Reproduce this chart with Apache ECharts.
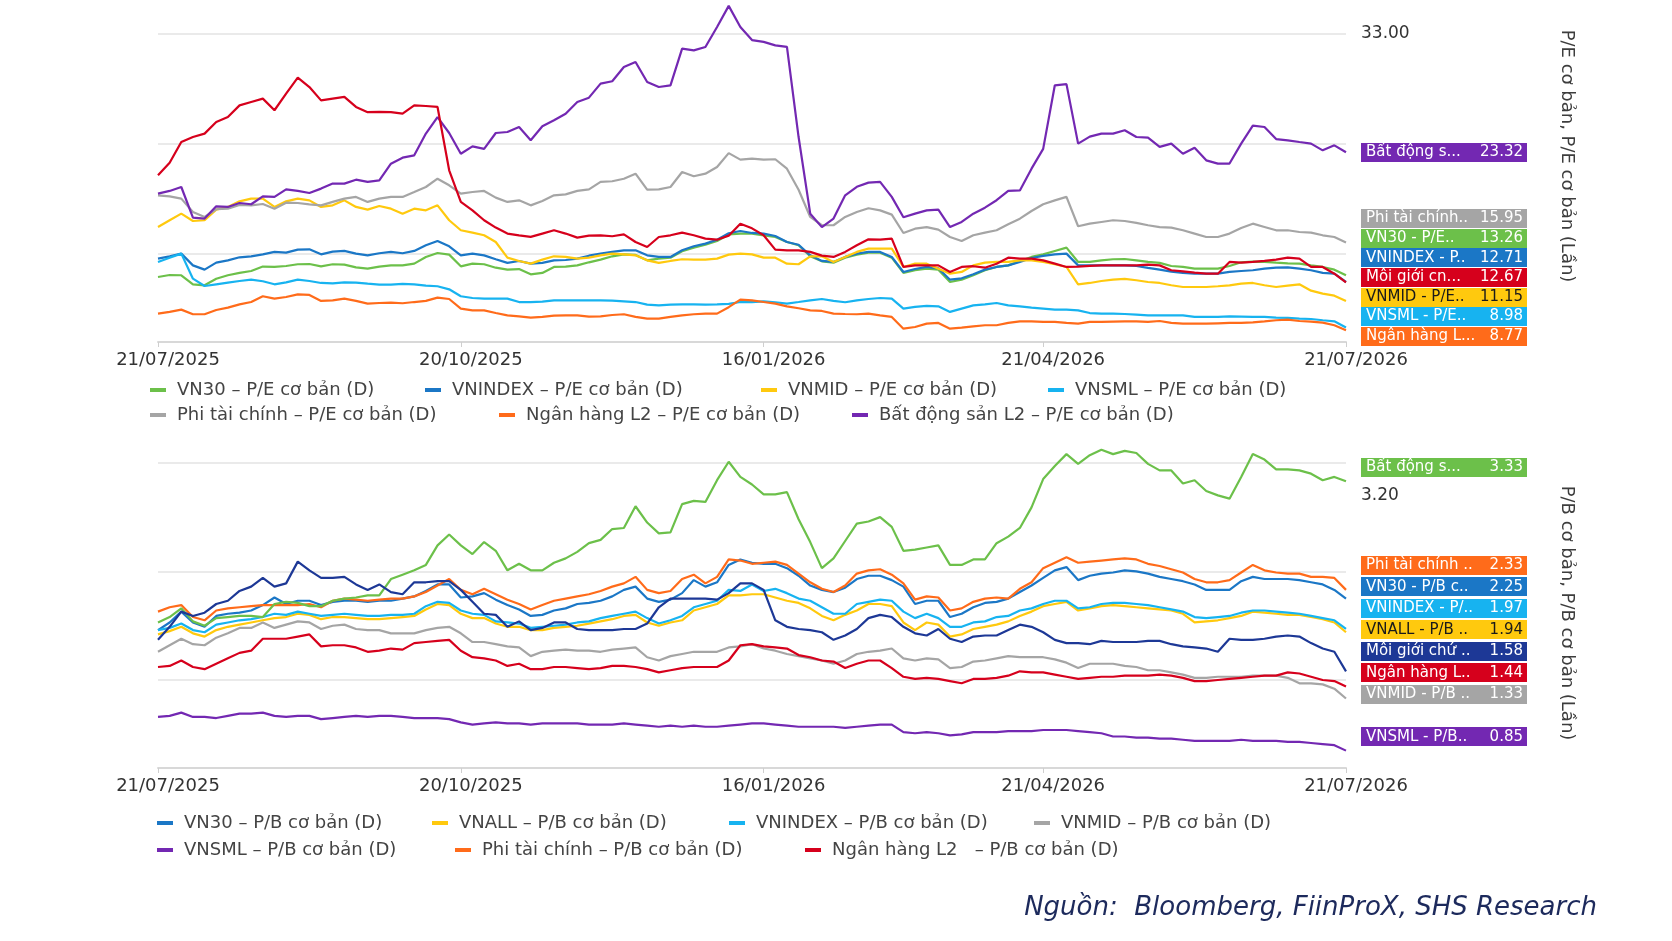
<!DOCTYPE html>
<html>
<head>
<meta charset="utf-8">
<title>P/E, P/B cơ bản</title>
<script src="https://cdn.jsdelivr.net/npm/echarts@6.0.0/dist/echarts.min.js"></script>
<style>
  html, body { margin: 0; padding: 0; background: #ffffff; }
  #chart { width: 1672px; height: 941px; }
</style>
</head>
<body>
<div id="chart"></div>
<script>
// mỗi điểm ~ nửa tuần giao dịch
const dates = [
  '21/07/2025','24/07/2025','28/07/2025','31/07/2025','04/08/2025','07/08/2025','11/08/2025','14/08/2025','18/08/2025','21/08/2025',
  '25/08/2025','28/08/2025','01/09/2025','04/09/2025','08/09/2025','11/09/2025','15/09/2025','18/09/2025','22/09/2025','25/09/2025',
  '29/09/2025','02/10/2025','06/10/2025','09/10/2025','13/10/2025','16/10/2025','20/10/2025',
  '23/10/2025','27/10/2025','30/10/2025','03/11/2025','06/11/2025','10/11/2025','13/11/2025','17/11/2025','20/11/2025','24/11/2025',
  '27/11/2025','01/12/2025','04/12/2025','08/12/2025','11/12/2025','15/12/2025','18/12/2025','22/12/2025','25/12/2025','29/12/2025',
  '02/01/2026','05/01/2026','08/01/2026','12/01/2026','14/01/2026','16/01/2026',
  '20/01/2026','23/01/2026','27/01/2026','30/01/2026','03/02/2026','06/02/2026','10/02/2026','13/02/2026','24/02/2026','27/02/2026',
  '03/03/2026','06/03/2026','10/03/2026','13/03/2026','17/03/2026','20/03/2026','24/03/2026','27/03/2026','31/03/2026','03/04/2026',
  '07/04/2026','10/04/2026','14/04/2026','21/04/2026',
  '24/04/2026','28/04/2026','01/05/2026','05/05/2026','08/05/2026','12/05/2026','15/05/2026','19/05/2026','22/05/2026','26/05/2026',
  '29/05/2026','02/06/2026','05/06/2026','09/06/2026','12/06/2026','16/06/2026','19/06/2026','23/06/2026','26/06/2026','30/06/2026',
  '03/07/2026','07/07/2026','10/07/2026','14/07/2026','17/07/2026','21/07/2026'
];
const dateTicks = ['21/07/2025', '20/10/2025', '16/01/2026', '21/04/2026', '21/07/2026'];

// P/E cơ bản (lần)
const peVN30 = [
  13.12, 13.28, 13.26, 12.52, 12.44, 12.98, 13.26, 13.45, 13.61, 13.97,
  13.94, 14.02, 14.16, 14.18, 13.99, 14.16, 14.13, 13.91, 13.8, 13.97,
  14.07, 14.07, 14.21, 14.76, 15.08, 14.95, 13.99, 14.21, 14.16, 13.88,
  13.72, 13.77, 13.34, 13.45, 13.94, 13.97, 14.07, 14.32, 14.54, 14.81,
  14.97, 14.92, 14.48, 14.62, 14.7, 15.22, 15.52, 15.76, 16.07, 16.6,
  16.67, 16.67, 16.53, 16.39, 15.98, 15.71, 14.81, 14.4, 14.29, 14.7,
  14.94, 15.11, 15.11, 14.7, 13.45, 13.67, 13.8, 13.72, 12.71, 12.9,
  13.26, 13.67, 13.94, 14.07, 14.43, 14.76, 14.97, 15.25, 15.52, 14.35,
  14.35, 14.48, 14.57, 14.59, 14.48, 14.35, 14.27, 14.02, 13.94, 13.8,
  13.8, 13.8, 14.02, 14.32, 14.38, 14.35, 14.29, 14.24, 14.21, 14.07,
  13.94, 13.72, 13.26
];
const peVNINDEX = [
  14.62, 14.81, 15.03, 14.07, 13.72, 14.29, 14.48, 14.73, 14.81, 14.97,
  15.17, 15.11, 15.36, 15.38, 14.97, 15.19, 15.25, 15.03, 14.89, 15.06,
  15.17, 15.06, 15.25, 15.71, 16.07, 15.63, 14.89, 15.03, 14.89, 14.57,
  14.27, 14.43, 14.21, 14.27, 14.48, 14.51, 14.62, 14.86, 15.03, 15.17,
  15.3, 15.3, 14.89, 14.76, 14.76, 15.3, 15.63, 15.85, 16.17, 16.7,
  16.88, 16.72, 16.67, 16.47, 15.98, 15.76, 14.89, 14.43, 14.35, 14.76,
  15.03, 15.17, 15.17, 14.76, 13.53, 13.77, 13.94, 13.83, 12.9, 13.01,
  13.34, 13.72, 13.94, 14.07, 14.35, 14.67, 14.84, 14.97, 15.03, 14.07,
  14.07, 14.07, 14.07, 14.07, 14.02, 13.86, 13.72, 13.56, 13.45, 13.39,
  13.39, 13.39, 13.53, 13.61, 13.67, 13.8, 13.88, 13.91, 13.8, 13.67,
  13.45, 13.39, 12.71
];
const peVNMID = [
  17.21, 17.76, 18.3, 17.7, 17.76, 18.63, 18.85, 19.31, 19.53, 19.53,
  18.85, 19.31, 19.53, 19.39, 18.85, 18.98, 19.39, 18.85, 18.63, 18.93,
  18.71, 18.3, 18.71, 18.57, 18.98, 17.76, 16.94, 16.75, 16.53, 15.98,
  14.7, 14.43, 14.21, 14.54, 14.81, 14.76, 14.62, 14.7, 14.89, 15.03,
  14.97, 14.89, 14.48, 14.27, 14.43, 14.57, 14.54, 14.54, 14.62, 14.95,
  15.03, 14.97, 14.7, 14.7, 14.21, 14.16, 14.81, 14.81, 14.35, 14.76,
  15.17, 15.44, 15.44, 15.44, 13.94, 14.21, 14.21, 13.8, 13.39, 13.53,
  14.07, 14.29, 14.35, 14.35, 14.48, 14.48, 14.35, 14.16, 13.94, 12.52,
  12.63, 12.79, 12.9, 12.96, 12.85, 12.71, 12.63, 12.44, 12.3, 12.3,
  12.3, 12.36, 12.44, 12.57, 12.63, 12.44, 12.3, 12.41, 12.52, 12.0,
  11.76, 11.59, 11.15
];
const peVNSML = [
  14.35, 14.7, 15.03, 12.98, 12.38, 12.52, 12.66, 12.79, 12.9, 12.77,
  12.52, 12.68, 12.9, 12.79, 12.63, 12.6, 12.68, 12.66, 12.57, 12.49,
  12.49, 12.55, 12.52, 12.41, 12.36, 12.11, 11.54, 11.4, 11.35, 11.35,
  11.35, 11.07, 11.07, 11.1, 11.21, 11.21, 11.21, 11.21, 11.21, 11.18,
  11.13, 11.07, 10.86, 10.8, 10.86, 10.88, 10.88, 10.86, 10.88, 10.92,
  11.07, 11.07, 11.13, 11.05, 10.94, 11.07, 11.21, 11.32, 11.16, 11.05,
  11.21, 11.32, 11.4, 11.35, 10.53, 10.67, 10.75, 10.72, 10.26, 10.53,
  10.8, 10.88, 10.99, 10.8, 10.72, 10.61, 10.53, 10.45, 10.45, 10.39,
  10.17, 10.12, 10.12, 10.09, 10.04, 9.98, 9.98, 9.98, 9.98, 9.85,
  9.85, 9.85, 9.9, 9.88, 9.85, 9.85, 9.79, 9.77, 9.71, 9.68,
  9.58, 9.49, 8.98
];
const pePhiTaiChinh = [
  19.8, 19.72, 19.53, 18.44, 18.03, 18.66, 18.71, 19.01, 18.98, 19.09,
  18.71, 19.2, 19.17, 19.06, 18.98, 19.26, 19.53, 19.67, 19.26, 19.53,
  19.67, 19.67, 20.07, 20.48, 21.16, 20.62, 19.94, 20.07, 20.16, 19.61,
  19.26, 19.39, 18.98, 19.34, 19.8, 19.88, 20.16, 20.29, 20.9, 20.95,
  21.16, 21.57, 20.26, 20.29, 20.48, 21.71, 21.36, 21.57, 22.12, 23.25,
  22.72, 22.8, 22.72, 22.75, 21.98, 20.26, 18.03, 17.35, 17.35, 18.03,
  18.44, 18.74, 18.57, 18.22, 16.72, 17.07, 17.2, 16.99, 16.39, 16.06,
  16.53, 16.75, 16.94, 17.43, 17.89, 18.52, 19.07, 19.39, 19.67, 17.27,
  17.48, 17.62, 17.76, 17.7, 17.54, 17.35, 17.2, 17.16, 16.94, 16.67,
  16.39, 16.39, 16.67, 17.13, 17.48, 17.21, 16.94, 16.94, 16.8, 16.75,
  16.53, 16.39, 15.95
];
const peNganHang = [
  10.12, 10.26, 10.45, 10.07, 10.07, 10.42, 10.61, 10.88, 11.07, 11.54,
  11.35, 11.48, 11.7, 11.65, 11.16, 11.21, 11.35, 11.16, 10.94, 10.99,
  11.02, 10.97, 11.07, 11.16, 11.43, 11.32, 10.53, 10.39, 10.39, 10.17,
  9.98, 9.9, 9.79, 9.85, 9.96, 9.98, 9.98, 9.88, 9.9, 10.01,
  10.07, 9.85, 9.71, 9.71, 9.85, 9.98, 10.07, 10.12, 10.12, 10.65,
  11.27, 11.21, 11.07, 10.94, 10.72, 10.56, 10.39, 10.34, 10.12, 10.09,
  10.07, 10.12, 9.98, 9.85, 8.89, 9.03, 9.3, 9.36, 8.89, 8.97,
  9.08, 9.17, 9.17, 9.36, 9.49, 9.49, 9.44, 9.44, 9.36, 9.3,
  9.44, 9.44, 9.47, 9.49, 9.49, 9.44, 9.52, 9.36, 9.3, 9.3,
  9.3, 9.33, 9.36, 9.36, 9.41, 9.49, 9.58, 9.63, 9.52, 9.47,
  9.38, 9.17, 8.77
];
const peBatDongSan = [
  19.94, 20.16, 20.48, 17.97, 17.9, 18.9, 18.85, 19.17, 19.07, 19.72,
  19.67, 20.29, 20.16, 19.99, 20.35, 20.76, 20.76, 21.08, 20.9, 21.03,
  22.39, 22.88, 23.07, 24.85, 26.2, 24.9, 23.2, 23.81, 23.6, 24.9,
  24.98, 25.39, 24.3, 25.45, 25.94, 26.48, 27.44, 27.79, 28.94, 29.13,
  30.3, 30.71, 29.07, 28.66, 28.8, 31.8, 31.66, 31.94, 33.57, 35.3,
  33.57, 32.5, 32.35, 32.07, 31.94, 24.57, 18.3, 17.2, 17.9, 19.8,
  20.5, 20.84, 20.9, 19.67, 18.0, 18.3, 18.57, 18.63, 17.2, 17.62,
  18.3, 18.79, 19.4, 20.16, 20.2, 21.98, 23.6, 28.8, 28.9, 24.03,
  24.6, 24.85, 24.85, 25.12, 24.57, 24.52, 23.76, 24.03, 23.2, 23.7,
  22.66, 22.39, 22.4, 24.03, 25.5, 25.39, 24.4, 24.3, 24.16, 24.03,
  23.48, 23.89, 23.32
];
const peMoiGioi = [
  21.44, 22.47, 24.16, 24.57, 24.85, 25.8, 26.2, 27.16, 27.44, 27.71,
  26.76, 28.12, 29.43, 28.66, 27.57, 27.71, 27.85, 27.03, 26.6, 26.62,
  26.6, 26.48, 27.16, 27.11, 27.03, 21.85, 19.26, 18.57, 17.76, 17.16,
  16.67, 16.53, 16.4, 16.67, 16.94, 16.67, 16.34, 16.5, 16.53, 16.45,
  16.6, 15.98, 15.57, 16.39, 16.53, 16.75, 16.53, 16.26, 16.17, 16.5,
  17.48, 17.1, 16.53, 15.36, 15.3, 15.3, 15.17, 14.87, 14.76, 15.17,
  15.71, 16.2, 16.17, 16.26, 13.94, 14.07, 14.07, 14.07, 13.53, 13.94,
  14.0, 13.88, 14.2, 14.7, 14.62, 14.62, 14.48, 14.21, 13.94, 13.97,
  14.02, 14.07, 14.07, 14.07, 14.07, 14.13, 14.07, 13.67, 13.58, 13.47,
  13.39, 13.39, 14.35, 14.29, 14.35, 14.43, 14.54, 14.7, 14.62, 13.94,
  13.94, 13.39, 12.67
];
const peGridValues = [15, 24, 33];
const peTickLabels = [33];

// P/B cơ bản (lần)
const pbVN30 = [
  1.96, 2.03, 2.13, 2.03, 1.99, 2.09, 2.11, 2.12, 2.14, 2.19,
  2.26, 2.2, 2.23, 2.23, 2.19, 2.22, 2.23, 2.23, 2.22, 2.23,
  2.23, 2.25, 2.27, 2.32, 2.38, 2.38, 2.26, 2.27, 2.3, 2.24,
  2.19, 2.15, 2.09, 2.1, 2.14, 2.16, 2.2, 2.21, 2.23, 2.27,
  2.33, 2.36, 2.25, 2.22, 2.24, 2.3, 2.42, 2.36, 2.4, 2.56,
  2.61, 2.58, 2.57, 2.57, 2.53, 2.46, 2.37, 2.33, 2.31, 2.35,
  2.43, 2.46, 2.46, 2.42, 2.36, 2.2, 2.23, 2.23, 2.08, 2.11,
  2.17, 2.21, 2.22, 2.25, 2.31, 2.37, 2.44, 2.51, 2.54, 2.42,
  2.46, 2.48, 2.49, 2.51, 2.5, 2.48, 2.45, 2.43, 2.41, 2.38,
  2.33, 2.33, 2.33, 2.41, 2.45, 2.43, 2.43, 2.43, 2.42, 2.4,
  2.38, 2.33, 2.25
];
const pbVNALL = [
  1.92, 1.95, 1.99, 1.93, 1.9, 1.96, 1.99, 2.01, 2.03, 2.05,
  2.07, 2.08, 2.11, 2.1, 2.06, 2.08, 2.08, 2.07, 2.06, 2.06,
  2.07, 2.08, 2.09, 2.15, 2.2, 2.19, 2.11, 2.07, 2.07, 2.02,
  1.99, 1.99, 1.96, 1.96, 1.98, 1.99, 2.0, 2.02, 2.04, 2.06,
  2.09, 2.1, 2.03, 2.0, 2.03, 2.05, 2.14, 2.17, 2.2, 2.28,
  2.28, 2.29, 2.29, 2.26, 2.23, 2.21, 2.16, 2.09, 2.05, 2.1,
  2.14, 2.2, 2.2, 2.18, 2.03, 1.96, 2.03, 2.01, 1.9, 1.92,
  1.97, 1.99, 2.01, 2.04, 2.09, 2.13, 2.18, 2.2, 2.22, 2.14,
  2.16, 2.18, 2.19, 2.18, 2.17, 2.16, 2.15, 2.14, 2.11, 2.03,
  2.04, 2.05, 2.07, 2.09, 2.13, 2.12, 2.11, 2.1, 2.1, 2.08,
  2.06, 2.03, 1.94
];
const pbVNINDEX = [
  1.96, 1.98, 2.02, 1.96, 1.94, 2.01, 2.03, 2.05, 2.06, 2.08,
  2.11, 2.1, 2.13, 2.11, 2.09, 2.1, 2.11, 2.1, 2.09, 2.09,
  2.1, 2.1, 2.11, 2.18, 2.22, 2.21, 2.14, 2.11, 2.1, 2.04,
  2.03, 2.02, 1.98, 1.99, 2.0, 2.01, 2.03, 2.04, 2.07, 2.09,
  2.11, 2.13, 2.07, 2.02, 2.05, 2.09, 2.17, 2.2, 2.23, 2.33,
  2.32, 2.38, 2.32, 2.34, 2.3, 2.25, 2.23, 2.17, 2.11, 2.11,
  2.2, 2.22, 2.24, 2.23, 2.13, 2.07, 2.11, 2.07, 1.99, 1.99,
  2.03, 2.04, 2.08, 2.09, 2.14, 2.16, 2.2, 2.23, 2.23, 2.16,
  2.17, 2.2, 2.21, 2.21, 2.2, 2.19, 2.17, 2.15, 2.13, 2.08,
  2.07, 2.08, 2.09, 2.12, 2.14, 2.14, 2.13, 2.12, 2.11, 2.09,
  2.07, 2.05, 1.97
];
const pbVNMID = [
  1.76, 1.82, 1.88, 1.83, 1.82, 1.89, 1.93, 1.98, 1.98, 2.03,
  1.98, 2.01, 2.04, 2.03, 1.97, 2.0, 2.01, 1.97, 1.96, 1.96,
  1.93, 1.93, 1.93, 1.96, 1.98, 1.99, 1.93, 1.85, 1.85, 1.83,
  1.81, 1.8, 1.72, 1.76, 1.77, 1.78, 1.77, 1.77, 1.76, 1.78,
  1.79, 1.8, 1.71, 1.68, 1.72, 1.74, 1.76, 1.76, 1.76, 1.8,
  1.81, 1.83, 1.79, 1.77, 1.74, 1.72, 1.7, 1.68, 1.65, 1.68,
  1.74, 1.76, 1.77, 1.79, 1.7, 1.68, 1.7, 1.69, 1.61, 1.62,
  1.67, 1.68, 1.7, 1.72, 1.71, 1.71, 1.71, 1.69, 1.66, 1.61,
  1.65, 1.65, 1.65, 1.63, 1.62, 1.59, 1.59, 1.57, 1.55, 1.52,
  1.52, 1.53, 1.53, 1.53, 1.54, 1.54, 1.54, 1.52, 1.47, 1.47,
  1.46, 1.42, 1.33
];
const pbVNSML = [
  1.16, 1.17, 1.2, 1.16, 1.16, 1.15, 1.17, 1.19, 1.19, 1.2,
  1.17, 1.16, 1.17, 1.17, 1.14, 1.15, 1.16, 1.17, 1.16, 1.17,
  1.17, 1.16, 1.15, 1.15, 1.15, 1.14, 1.11, 1.09, 1.1, 1.11,
  1.1, 1.1, 1.09, 1.1, 1.1, 1.1, 1.1, 1.09, 1.09, 1.09,
  1.1, 1.09, 1.08, 1.07, 1.08, 1.07, 1.08, 1.07, 1.07, 1.08,
  1.09, 1.1, 1.1, 1.09, 1.08, 1.07, 1.07, 1.07, 1.07, 1.06,
  1.07, 1.08, 1.09, 1.09, 1.02, 1.01, 1.02, 1.01, 0.99, 1.0,
  1.02, 1.02, 1.02, 1.03, 1.03, 1.03, 1.04, 1.04, 1.04, 1.03,
  1.02, 1.01, 0.98, 0.98, 0.97, 0.97, 0.96, 0.96, 0.95, 0.94,
  0.94, 0.94, 0.94, 0.95, 0.94, 0.94, 0.94, 0.93, 0.93, 0.92,
  0.91, 0.9, 0.85
];
const pbPhiTaiChinh = [
  2.13, 2.17, 2.19, 2.08, 2.05, 2.14, 2.16, 2.17, 2.18, 2.19,
  2.19, 2.19, 2.19, 2.2, 2.17, 2.23, 2.25, 2.24, 2.23, 2.24,
  2.25, 2.25, 2.27, 2.31, 2.37, 2.43, 2.33, 2.29, 2.34, 2.29,
  2.24, 2.2, 2.15, 2.19, 2.23, 2.25, 2.27, 2.29, 2.32, 2.36,
  2.39, 2.45, 2.33, 2.3, 2.32, 2.43, 2.47, 2.39, 2.45, 2.61,
  2.6, 2.57, 2.58, 2.59, 2.56, 2.48, 2.4, 2.34, 2.31, 2.37,
  2.48, 2.51, 2.52, 2.47, 2.39, 2.24, 2.27, 2.26, 2.14, 2.16,
  2.22, 2.25, 2.26, 2.25, 2.34, 2.4, 2.53, 2.58, 2.63, 2.58,
  2.59, 2.6, 2.61, 2.62, 2.61, 2.57, 2.55, 2.52, 2.49, 2.43,
  2.4, 2.4, 2.42, 2.49, 2.56, 2.51, 2.49, 2.48, 2.48, 2.45,
  2.45, 2.44, 2.33
];
const pbNganHang = [
  1.62, 1.63, 1.68, 1.62, 1.6, 1.65, 1.7, 1.75, 1.77, 1.88,
  1.88, 1.88, 1.9, 1.92, 1.81, 1.82, 1.82, 1.8, 1.76, 1.77,
  1.79, 1.78, 1.84, 1.85, 1.86, 1.87, 1.77, 1.71, 1.7, 1.68,
  1.63, 1.65, 1.6, 1.6, 1.62, 1.62, 1.61, 1.6, 1.61, 1.63,
  1.63, 1.62, 1.6, 1.57, 1.59, 1.61, 1.62, 1.62, 1.62, 1.68,
  1.82, 1.83, 1.81, 1.8, 1.79, 1.73, 1.71, 1.68, 1.67, 1.61,
  1.65, 1.68, 1.68, 1.61, 1.53, 1.51, 1.52, 1.51, 1.49, 1.47,
  1.51, 1.51, 1.52, 1.54, 1.58, 1.57, 1.57, 1.55, 1.53, 1.51,
  1.52, 1.53, 1.53, 1.54, 1.54, 1.54, 1.55, 1.54, 1.52, 1.49,
  1.49, 1.5, 1.51, 1.52, 1.53, 1.54, 1.54, 1.57, 1.56, 1.53,
  1.5, 1.49, 1.44
];
const pbBatDongSan = [
  2.03, 2.08, 2.16, 2.04, 2.0, 2.07, 2.08, 2.09, 2.09, 2.08,
  2.2, 2.22, 2.21, 2.18, 2.18, 2.23, 2.25, 2.26, 2.28, 2.28,
  2.43, 2.47, 2.51, 2.56, 2.74, 2.84, 2.74, 2.66, 2.77, 2.69,
  2.51, 2.57, 2.51, 2.51, 2.58, 2.62, 2.68, 2.76, 2.79, 2.89,
  2.9, 3.1, 2.95, 2.85, 2.86, 3.12, 3.15, 3.14, 3.34, 3.51,
  3.37, 3.3, 3.21, 3.21, 3.23, 2.98, 2.77, 2.53, 2.62, 2.78,
  2.94, 2.96, 3.0, 2.91, 2.69, 2.7, 2.72, 2.74, 2.56, 2.56,
  2.61, 2.61, 2.76, 2.82, 2.9, 3.09, 3.35, 3.47, 3.58, 3.49,
  3.57, 3.62, 3.58, 3.61, 3.59, 3.49, 3.43, 3.43, 3.31, 3.34,
  3.24, 3.2, 3.17, 3.37, 3.58, 3.53, 3.44, 3.44, 3.43, 3.4,
  3.34, 3.37, 3.33
];
const pbMoiGioi = [
  1.87, 1.99, 2.13, 2.09, 2.12, 2.2, 2.23, 2.32, 2.36, 2.44,
  2.36, 2.39, 2.59, 2.51, 2.44, 2.44, 2.45, 2.38, 2.33, 2.38,
  2.31, 2.29, 2.4, 2.4, 2.41, 2.41, 2.33, 2.22, 2.11, 2.1,
  1.99, 2.04, 1.96, 1.98, 2.03, 2.03, 1.97, 1.96, 1.96, 1.96,
  1.97, 1.97, 2.02, 2.17, 2.25, 2.25, 2.25, 2.25, 2.24, 2.3,
  2.39, 2.39, 2.33, 2.05, 1.99, 1.97, 1.96, 1.94, 1.87, 1.91,
  1.97, 2.07, 2.1, 2.08, 1.99, 1.93, 1.91, 1.97, 1.88, 1.85,
  1.9, 1.91, 1.91, 1.96, 2.01, 1.99, 1.94, 1.87, 1.84, 1.84,
  1.83, 1.86, 1.85, 1.85, 1.85, 1.86, 1.86, 1.83, 1.81, 1.8,
  1.79, 1.76, 1.88, 1.87, 1.87, 1.88, 1.9, 1.91, 1.9, 1.84,
  1.79, 1.76, 1.58
];
const pbGridValues = [1.5, 2.5, 3.5];
const pbTickLabels = [3.2];

const FONT = "'DejaVu Sans', 'Noto Sans', sans-serif";
const C = {
  green: '#6cc04a', blue: '#1b77c6', yellow: '#ffc90e', cyan: '#17b3f0', gray: '#a5a5a5',
  orange: '#ff6b1a', purple: '#7328b2', red: '#d6001c', navy: '#1d3896'
};

const peLines = [
  { name: 'VN30 – P/E cơ bản (D)', data: peVN30, color: C.green, tag: 'VN30 - P/E..' },
  { name: 'VNINDEX – P/E cơ bản (D)', data: peVNINDEX, color: C.blue, tag: 'VNINDEX - P..' },
  { name: 'VNMID – P/E cơ bản (D)', data: peVNMID, color: C.yellow, tag: 'VNMID - P/E..', dark: true },
  { name: 'VNSML – P/E cơ bản (D)', data: peVNSML, color: C.cyan, tag: 'VNSML - P/E..' },
  { name: 'Phi tài chính – P/E cơ bản (D)', data: pePhiTaiChinh, color: C.gray, tag: 'Phi tài chính..' },
  { name: 'Ngân hàng L2 – P/E cơ bản (D)', data: peNganHang, color: C.orange, tag: 'Ngân hàng L...' },
  { name: 'Bất động sản L2 – P/E cơ bản (D)', data: peBatDongSan, color: C.purple, tag: 'Bất động s...' },
  { name: 'Môi giới chứng khoán – P/E cơ bản (D)', data: peMoiGioi, color: C.red, tag: 'Môi giới cn...', legend: false }
];

const pbLines = [
  { name: 'VN30 – P/B cơ bản (D)', data: pbVN30, color: C.blue, tag: 'VN30 - P/B c..' },
  { name: 'VNALL – P/B cơ bản (D)', data: pbVNALL, color: C.yellow, tag: 'VNALL - P/B ..', dark: true },
  { name: 'VNINDEX – P/B cơ bản (D)', data: pbVNINDEX, color: C.cyan, tag: 'VNINDEX - P/..' },
  { name: 'VNMID – P/B cơ bản (D)', data: pbVNMID, color: C.gray, tag: 'VNMID - P/B ..' },
  { name: 'VNSML – P/B cơ bản (D)', data: pbVNSML, color: C.purple, tag: 'VNSML - P/B..' },
  { name: 'Phi tài chính – P/B cơ bản (D)', data: pbPhiTaiChinh, color: C.orange, tag: 'Phi tài chính ..' },
  { name: 'Ngân hàng L2   – P/B cơ bản (D)', data: pbNganHang, color: C.red, tag: 'Ngân hàng L..' },
  { name: 'Bất động sản L2 – P/B cơ bản (D)', data: pbBatDongSan, color: C.green, tag: 'Bất động s...', legend: false },
  { name: 'Môi giới chứng khoán – P/B cơ bản (D)', data: pbMoiGioi, color: C.navy, tag: 'Môi giới chứ ..', legend: false }
];

const panels = [
  {
    lines: peLines, gridValues: peGridValues, tickLabels: peTickLabels,
    grid: { left: 158, right: 326, top: 0, height: 342 }, min: 7.8, max: 35.78,
    yName: 'P/E cơ bản, P/E cơ bản (Lần)', namePad: [0, 30, 0, 0],
    tagPitch: 19.6, tagShift: 0,
    legendRows: [{ top: 380, lefts: [150, 425, 761, 1048] }, { top: 405, lefts: [150, 499, 852] }]
  },
  {
    lines: pbLines, gridValues: pbGridValues, tickLabels: pbTickLabels,
    grid: { left: 158, right: 326, top: 440, height: 328 }, min: 0.69, max: 3.71,
    yName: 'P/B cơ bản, P/B cơ bản (Lần)', namePad: [0, 0, 0, 18],
    tagPitch: 21.5, tagShift: -14,
    legendRows: [{ top: 813, lefts: [157, 432, 729, 1034] }, { top: 840, lefts: [157, 455, 805] }]
  }
];

const TAG = { gap: 15, w: 166, h: 19, font: '15px ' + FONT };

const showTick = (idx, val) => dateTicks.includes(val);

function gridMarks(p) {
  const label = {
    show: true, position: 'end', distance: 15, color: '#333', fontSize: 17, fontFamily: FONT,
    formatter: (m) => Number(m.value).toFixed(2)
  };
  const data = p.gridValues.map((v) => ({ yAxis: v, label: p.tickLabels.includes(v) ? label : { show: false } }));
  p.tickLabels.filter((v) => !p.gridValues.includes(v))
    .forEach((v) => data.push({ yAxis: v, lineStyle: { color: 'rgba(0,0,0,0)', width: 0 }, label }));
  return {
    silent: true, symbol: ['none', 'none'], z: 1, animation: false,
    lineStyle: { color: '#e3e3e3', width: 1.5, type: 'solid' },
    data
  };
}

const legends = [];
panels.forEach((p) => {
  const names = p.lines.filter((l) => l.legend !== false).map((l) => l.name);
  let n = 0;
  p.legendRows.forEach((row) => row.lefts.forEach((left) => {
    legends.push({
      data: [names[n++]], left, top: row.top, padding: 0,
      icon: 'rect', itemWidth: 16, itemHeight: 4,
      textStyle: { color: '#444', fontSize: 18, fontFamily: FONT, lineHeight: 20, padding: [0, 0, 0, 6] }
    });
  }));
});

const option = {
  animation: false,
  backgroundColor: '#ffffff',
  title: {
    text: 'Nguồn:  Bloomberg, FiinProX, SHS Research',
    right: 75, top: 895, padding: 0,
    textStyle: { color: '#1d2a5c', fontSize: 26, fontStyle: 'italic', fontWeight: 'normal', fontFamily: FONT }
  },
  legend: legends,
  grid: panels.map((p) => p.grid),
  xAxis: panels.map((p, g) => ({
    type: 'category', gridIndex: g, data: dates, boundaryGap: false,
    axisLine: { lineStyle: { color: '#d8d8d8', width: 2 } },
    axisTick: { show: true, interval: showTick, length: 5, lineStyle: { color: '#cfcfcf' } },
    axisLabel: { interval: showTick, color: '#333', fontSize: 18, fontFamily: FONT, margin: 9, padding: [0, 0, 0, 20] },
    splitLine: { show: false }
  })),
  yAxis: panels.map((p, g) => ({
    type: 'value', gridIndex: g, position: 'right', min: p.min, max: p.max,
    axisLine: { show: false }, axisTick: { show: false }, axisLabel: { show: false }, splitLine: { show: false },
    name: p.yName, nameLocation: 'middle', nameRotate: -90, nameGap: 212,
    nameTextStyle: { color: '#3d3d3d', fontSize: 18, fontFamily: FONT, padding: p.namePad }
  })),
  series: panels.flatMap((p, g) => p.lines.map((l, k) => ({
    type: 'line', name: l.name, xAxisIndex: g, yAxisIndex: g, data: l.data,
    symbol: 'none', showSymbol: false,
    lineStyle: { color: l.color, width: 2.2 },
    itemStyle: { color: l.color },
    emphasis: { disabled: true },
    markLine: k === 0 ? gridMarks(p) : undefined
  })))
};

const chart = echarts.init(document.getElementById('chart'), null, { renderer: 'canvas' });
chart.setOption(option);

// dàn nhãn cuối đường để không chồng nhau, canh theo trung bình của cụm
function spread(items, pitch, minY, maxY) {
  items.sort((a, b) => a.y - b.y);
  const place = (gr) => {
    const n = gr.members.length;
    let top = gr.sum / n - (n - 1) * pitch / 2;
    top = Math.min(top, maxY - pitch / 2 - (n - 1) * pitch);
    top = Math.max(top, minY + pitch / 2);
    gr.top = top;
  };
  const groups = items.map((it) => ({ members: [it], sum: it.y }));
  groups.forEach(place);
  let merged = true;
  while (merged) {
    merged = false;
    for (let i = 0; i < groups.length - 1; i++) {
      const a = groups[i], b = groups[i + 1];
      if (a.top + a.members.length * pitch > b.top) {
        a.members = a.members.concat(b.members);
        a.sum += b.sum;
        groups.splice(i + 1, 1);
        place(a);
        merged = true;
        break;
      }
    }
  }
  groups.forEach((gr) => gr.members.forEach((m, k) => { m.ty = gr.top + k * pitch; }));
}

function endTags() {
  const out = [];
  panels.forEach((p, g) => {
    const items = p.lines.map((l) => {
      const last = l.data.length - 1;
      const pt = chart.convertToPixel({ gridIndex: g }, [last, l.data[last]]);
      return { l, x: pt[0], y: pt[1] + p.tagShift, v: l.data[last] };
    });
    spread(items, p.tagPitch, p.grid.top, p.grid.top + p.grid.height + 4);
    items.forEach((it) => {
      const x0 = Math.round(it.x + TAG.gap);
      const y0 = Math.round(it.ty - TAG.h / 2);
      const fill = it.l.dark ? '#1a1a1a' : '#ffffff';
      out.push({ type: 'rect', silent: true, z: 100, shape: { x: x0, y: y0, width: TAG.w, height: TAG.h }, style: { fill: it.l.color } });
      out.push({ type: 'text', silent: true, z: 101, x: x0 + 5, y: it.ty, style: { text: it.l.tag, fill, font: TAG.font, textVerticalAlign: 'middle' } });
      out.push({ type: 'text', silent: true, z: 101, x: x0 + TAG.w - 4, y: it.ty, style: { text: it.v.toFixed(2), fill, font: TAG.font, textAlign: 'right', textVerticalAlign: 'middle' } });
    });
  });
  return out;
}

chart.setOption({ graphic: endTags() });
</script>
</body>
</html>
